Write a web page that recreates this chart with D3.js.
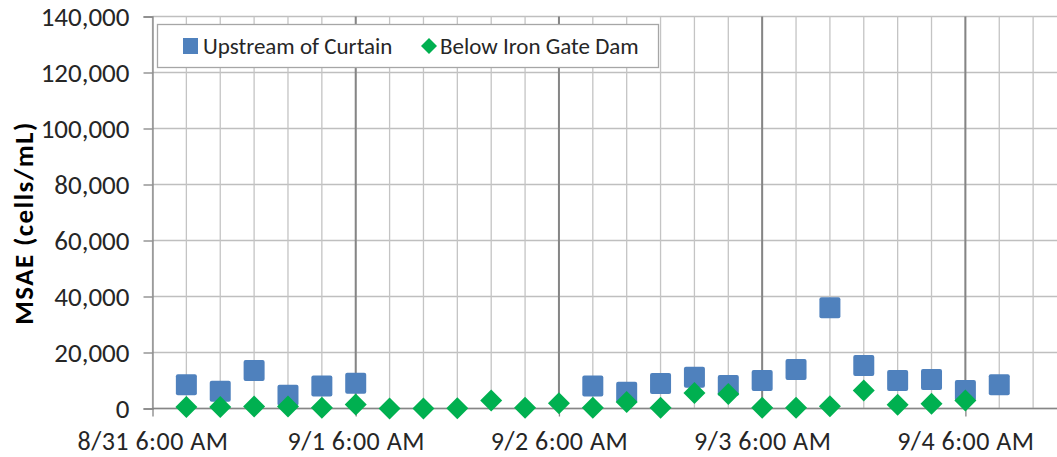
<!DOCTYPE html>
<html>
<head>
<meta charset="utf-8">
<script src="https://cdn.jsdelivr.net/npm/d3@7"></script>
<style>
  body { margin: 0; background: #fff; }
  text { font-family: Carlito, Lato, sans-serif; fill: #262626; }
</style>
</head>
<body>
<div id="chart"></div>
<script>
// Sample times (every 4 hours) and MSAE counts, cells/mL
var upstreamTimes = ["8/31 10:00", "8/31 14:00", "8/31 18:00", "8/31 22:00", "9/1 02:00", "9/1 06:00",
	"9/2 10:00", "9/2 14:00", "9/2 18:00", "9/2 22:00", "9/3 02:00", "9/3 06:00", "9/3 10:00",
	"9/3 14:00", "9/3 18:00", "9/3 22:00", "9/4 02:00", "9/4 06:00", "9/4 10:00"];
var upstreamValues = [8500, 6200, 13600, 4700, 8000, 9000,
	8000, 5800, 8900, 11200, 8200, 10000, 13900,
	36000, 15400, 10000, 10400, 6400, 8500];

var belowTimes = ["8/31 10:00", "8/31 14:00", "8/31 18:00", "8/31 22:00", "9/1 02:00", "9/1 06:00",
	"9/1 10:00", "9/1 14:00", "9/1 18:00", "9/1 22:00", "9/2 02:00", "9/2 06:00",
	"9/2 10:00", "9/2 14:00", "9/2 18:00", "9/2 22:00", "9/3 02:00", "9/3 06:00",
	"9/3 10:00", "9/3 14:00", "9/3 18:00", "9/3 22:00", "9/4 02:00", "9/4 06:00"];
var belowValues = [500, 500, 700, 700, 250, 1400,
	0, 0, 100, 2900, 250, 1900,
	250, 2300, 250, 5500, 5200, 250,
	250, 800, 6400, 1300, 1700, 2900];

var yTicks = [0, 20000, 40000, 60000, 80000, 100000, 120000, 140000];
var seriesNames = ["Upstream of Curtain", "Below Iron Gate Dam"];
var axisStart = "8/31 06:00", axisEnd = "9/4 18:00";

var parseTime = d3.timeParse("%m/%d %H:%M");
var upstream = upstreamTimes.map(function(t, i) { return {date: parseTime(t), value: upstreamValues[i]}; });
var below = belowTimes.map(function(t, i) { return {date: parseTime(t), value: belowValues[i]}; });

var W = 1057, H = 457;
var plotLeft = 152.5, plotTop = 16.5, plotBottom = 408.5;

var svg = d3.select("#chart").append("svg")
	.attr("width", W)
	.attr("height", H);

var x = d3.scaleTime()
	.domain([parseTime(axisStart), parseTime(axisEnd)])
	.range([plotLeft, plotLeft + 914.5]);

var y = d3.scaleLinear()
	.domain([0, 140000])
	.range([plotBottom, plotTop]);

var minorTicks = d3.timeHour.range(parseTime(axisStart), parseTime(axisEnd), 4);
var majorTicks = d3.timeHour.range(parseTime(axisStart), parseTime(axisEnd), 24);

// horizontal gridlines
svg.append("g")
	.selectAll("line")
	.data(yTicks)
	.enter().append("line")
	.attr("x1", plotLeft).attr("x2", W)
	.attr("y1", function(d) { return y(d); })
	.attr("y2", function(d) { return y(d); })
	.attr("stroke", "#bfbfbf")
	.attr("stroke-width", 1.3);

// vertical minor gridlines
svg.append("g")
	.selectAll("line")
	.data(minorTicks)
	.enter().append("line")
	.attr("x1", function(d) { return x(d); })
	.attr("x2", function(d) { return x(d); })
	.attr("y1", plotTop).attr("y2", plotBottom)
	.attr("stroke", "#c4c4c4")
	.attr("stroke-width", 1.3);

// vertical major gridlines
svg.append("g")
	.selectAll("line")
	.data(majorTicks.slice(1))
	.enter().append("line")
	.attr("x1", function(d) { return x(d); })
	.attr("x2", function(d) { return x(d); })
	.attr("y1", plotTop).attr("y2", plotBottom)
	.attr("stroke", "#858585")
	.attr("stroke-width", 2);

// y axis
var yAxis = svg.append("g")
	.attr("transform", "translate(" + plotLeft + ",0)")
	.call(d3.axisLeft(y).tickValues(yTicks).tickSize(9).tickPadding(14).tickFormat(d3.format(",")));
yAxis.selectAll("line, path").attr("stroke", "#868686").attr("stroke-width", 1.3);
yAxis.selectAll("text").style("font-size", "27px").attr("dy", "0.35em");

// x axis
var xAxis = svg.append("g")
	.attr("transform", "translate(0," + plotBottom + ")")
	.call(d3.axisBottom(x).tickValues(majorTicks).tickSize(8)
		.tickFormat(d3.timeFormat("%-m/%-d %-I:%M %p")));
xAxis.select(".domain").attr("d", "M" + plotLeft + ",0H" + W);
xAxis.selectAll("line, path").attr("stroke", "#868686").attr("stroke-width", 1.3);
xAxis.selectAll("text")
	.style("font-size", "26px")
	.style("letter-spacing", "0.5px")
	.attr("y", 41)
	.attr("dy", 0);

// y title
svg.append("text")
	.attr("transform", "translate(33,223) rotate(-90)")
	.attr("text-anchor", "middle")
	.style("font-size", "27px")
	.style("font-weight", "bold")
	.style("letter-spacing", "1.4px")
	.style("fill", "#000")
	.text("MSAE (cells/mL)");

// upstream squares
var sq = 21;
svg.append("g")
	.selectAll("rect")
	.data(upstream)
	.enter().append("rect")
	.attr("x", function(d) { return x(d.date) - sq / 2; })
	.attr("y", function(d) { return y(d.value) - sq / 2; })
	.attr("width", sq).attr("height", sq)
	.attr("rx", 2)
	.attr("fill", "#4f81bd");

// below dam diamonds
var dm = 11;
svg.append("g")
	.selectAll("path")
	.data(below)
	.enter().append("path")
	.attr("d", "M0," + (-dm) + "L" + dm + ",0L0," + dm + "L" + (-dm) + ",0Z")
	.attr("transform", function(d) { return "translate(" + x(d.date) + "," + y(d.value) + ")"; })
	.attr("fill", "#00b050");

// legend
var legend = svg.append("g");
legend.append("rect")
	.attr("x", 157.5).attr("y", 24.5)
	.attr("width", 501).attr("height", 43)
	.attr("fill", "#fff")
	.attr("stroke", "#a6a6a6")
	.attr("stroke-width", 1.3);
legend.append("rect")
	.attr("x", 183).attr("y", 38)
	.attr("width", 15).attr("height", 16)
	.attr("fill", "#4f81bd");
legend.append("text")
	.attr("x", 203).attr("y", 54)
	.style("font-size", "23px")
	.text(seriesNames[0]);
legend.append("path")
	.attr("d", "M429,38L437,46L429,54L421,46Z")
	.attr("fill", "#00b050");
legend.append("text")
	.attr("x", 440).attr("y", 54)
	.style("font-size", "23px")
	.text(seriesNames[1]);
</script>
</body>
</html>
